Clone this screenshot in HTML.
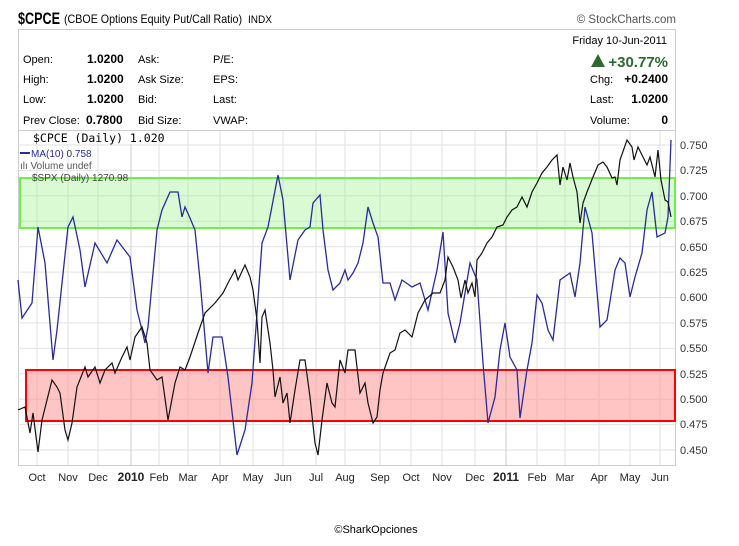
<!DOCTYPE html>
<html><head><meta charset="utf-8"><style>
body{margin:0;background:#fff;width:739px;height:541px;overflow:hidden;font-family:"Liberation Sans",sans-serif;}
</style></head><body>
<svg width="739" height="541" xmlns="http://www.w3.org/2000/svg" font-family="Liberation Sans, sans-serif">
<text x="18" y="24" font-size="17" font-weight="bold" textLength="42" lengthAdjust="spacingAndGlyphs">$CPCE</text>
<text x="64" y="23" font-size="12" textLength="178" lengthAdjust="spacingAndGlyphs">(CBOE Options Equity Put/Call Ratio)</text>
<text x="248" y="23" font-size="11" textLength="24" lengthAdjust="spacingAndGlyphs">INDX</text>
<text x="676" y="23" font-size="11.5" fill="#555" text-anchor="end">© StockCharts.com</text>
<rect x="18.5" y="29.5" width="657" height="436" fill="none" stroke="#ccc"/>
<line x1="18" y1="130.5" x2="676" y2="130.5" stroke="#ccc"/>
<g font-size="11">
<text x="23" y="63">Open:</text><text x="87" y="63" font-weight="bold" font-size="12">1.0200</text><text x="138" y="63">Ask:</text><text x="213" y="63">P/E:</text>
<text x="23" y="83">High:</text><text x="87" y="83" font-weight="bold" font-size="12">1.0200</text><text x="138" y="83">Ask Size:</text><text x="213" y="83">EPS:</text>
<text x="23" y="103">Low:</text><text x="87" y="103" font-weight="bold" font-size="12">1.0200</text><text x="138" y="103">Bid:</text><text x="213" y="103">Last:</text>
<text x="23" y="124">Prev Close:</text><text x="86" y="124" font-weight="bold" font-size="12">0.7800</text><text x="138" y="124">Bid Size:</text><text x="213" y="124">VWAP:</text>
<text x="667" y="44" text-anchor="end">Friday  10-Jun-2011</text>
<polygon points="591,67 598,54 605,67" fill="#2d6a2d"/>
<text x="668" y="67" text-anchor="end" font-size="15" fill="#2d6a2d" font-weight="bold">+30.77%</text>
<text x="590" y="83">Chg:</text><text x="668" y="83" text-anchor="end" font-weight="bold" font-size="12">+0.2400</text>
<text x="590" y="103">Last:</text><text x="668" y="103" text-anchor="end" font-weight="bold" font-size="12">1.0200</text>
<text x="590" y="124">Volume:</text><text x="668" y="124" text-anchor="end" font-weight="bold" font-size="12">0</text>
</g>
<g stroke="#e2e2e2" stroke-width="1">
<line x1="18" x2="675" y1="145" y2="145"/><line x1="18" x2="675" y1="170.4" y2="170.4"/><line x1="18" x2="675" y1="195.8" y2="195.8"/><line x1="18" x2="675" y1="221.3" y2="221.3"/><line x1="18" x2="675" y1="246.7" y2="246.7"/><line x1="18" x2="675" y1="272.1" y2="272.1"/><line x1="18" x2="675" y1="297.5" y2="297.5"/><line x1="18" x2="675" y1="322.9" y2="322.9"/><line x1="18" x2="675" y1="348.3" y2="348.3"/><line x1="18" x2="675" y1="373.8" y2="373.8"/><line x1="18" x2="675" y1="399.2" y2="399.2"/><line x1="18" x2="675" y1="424.6" y2="424.6"/><line x1="18" x2="675" y1="450" y2="450"/>
<line x1="37" x2="37" y1="131" y2="465"/><line x1="68" x2="68" y1="131" y2="465"/><line x1="98" x2="98" y1="131" y2="465"/><line x1="131" x2="131" y1="131" y2="465" stroke="#ccc"/><line x1="159" x2="159" y1="131" y2="465"/><line x1="188" x2="188" y1="131" y2="465"/><line x1="220" x2="220" y1="131" y2="465"/><line x1="253" x2="253" y1="131" y2="465"/><line x1="283" x2="283" y1="131" y2="465"/><line x1="316" x2="316" y1="131" y2="465"/><line x1="345" x2="345" y1="131" y2="465"/><line x1="380" x2="380" y1="131" y2="465"/><line x1="411" x2="411" y1="131" y2="465"/><line x1="442" x2="442" y1="131" y2="465"/><line x1="475" x2="475" y1="131" y2="465"/><line x1="506" x2="506" y1="131" y2="465" stroke="#ccc"/><line x1="537" x2="537" y1="131" y2="465"/><line x1="565" x2="565" y1="131" y2="465"/><line x1="599" x2="599" y1="131" y2="465"/><line x1="630" x2="630" y1="131" y2="465"/><line x1="660" x2="660" y1="131" y2="465"/>
</g>
<rect x="20" y="178" width="655" height="50" fill="#8bf07a" fill-opacity="0.33" stroke="#6ef047" stroke-width="2"/>
<rect x="26" y="370" width="649" height="51" fill="#ff8a8a" fill-opacity="0.5" stroke="#f00" stroke-width="2"/>
<polyline fill="none" stroke="#2a2a9a" stroke-width="1.3" points="18,280 22,318 32,303 38,227 45,263 53,360 57,330 68,227 73,217 80,250 85,287 95,243 107,263 117,240 130,257 137,310 142,330 145,343 148,327 157,230 162,210 170,192 178,192 182,217 185,207 190,218 195,230 200,280 208,373 213,337 222,337 228,377 237,455 245,430 252,383 262,243 268,227 278,175 283,200 290,280 298,240 305,230 310,227 313,203 320,195 323,230 328,270 333,290 340,283 345,270 348,280 353,273 358,263 363,243 368,207 373,223 378,237 383,283 390,283 395,300 402,280 412,287 420,283 428,310 437,270 443,232 448,313 455,343 460,323 470,263 477,280 483,363 488,423 495,397 500,350 505,323 510,357 517,370 520,418 527,370 532,343 537,295 542,303 548,330 553,340 560,280 570,273 575,297 580,263 585,207 592,233 600,327 607,320 615,270 620,258 625,263 630,297 635,277 642,253 647,210 652,192 657,237 665,233 668,217 671,140"/>
<polyline fill="none" stroke="#111" stroke-width="1.2" points="18,410 25,407 30,433 33,413 38,452 42,420 47,400 52,380 57,387 60,393 65,430 68,440 72,423 77,387 85,367 88,377 95,367 100,383 105,370 112,363 115,373 122,357 127,347 130,360 135,337 142,327 147,343 150,370 157,380 162,377 168,420 175,383 180,367 185,370 190,357 198,333 205,313 215,303 223,293 228,283 235,270 238,280 245,265 250,277 253,290 257,320 260,363 262,317 265,310 270,343 273,370 275,397 280,377 283,403 287,393 290,423 295,390 300,360 305,360 310,397 315,443 318,455 322,420 327,383 332,403 335,407 340,360 345,373 348,350 355,350 360,393 365,383 368,403 373,423 377,417 380,390 383,373 390,353 395,350 400,333 405,330 412,337 418,313 425,300 433,293 440,293 445,280 448,257 453,267 458,280 461,298 465,280 468,293 472,283 475,297 477,260 482,253 487,243 492,237 497,227 503,225 507,217 512,210 517,207 522,197 527,207 532,192 537,183 542,173 547,167 552,160 557,155 560,185 563,167 567,180 570,163 573,177 577,192 580,223 583,203 587,192 593,177 598,165 603,162 607,167 612,178 615,177 617,185 620,160 627,140 632,147 634,160 638,147 643,157 647,165 650,157 655,177 658,150 661,180 665,200 668,202 671,217"/>
<rect x="20" y="131" width="130" height="13" fill="#fff"/>
<text x="33" y="142" font-size="11.5" font-family="DejaVu Sans Mono, monospace">$CPCE (Daily) 1.020</text>
<g font-size="10">
<line x1="20" y1="153" x2="30" y2="153" stroke="#2a2a9a" stroke-width="2"/><text x="31" y="157" fill="#2a2a9a">MA(10) 0.758</text>
<text x="20" y="169" fill="#555">ılı Volume undef</text>
<text x="32" y="181" fill="#444">$SPX (Daily) 1270.98</text>
</g>
<g font-size="11" fill="#333">
<text x="680" y="149">0.750</text><text x="680" y="174">0.725</text><text x="680" y="200">0.700</text><text x="680" y="225">0.675</text><text x="680" y="251">0.650</text><text x="680" y="276">0.625</text><text x="680" y="301">0.600</text><text x="680" y="327">0.575</text><text x="680" y="352">0.550</text><text x="680" y="378">0.525</text><text x="680" y="403">0.500</text><text x="680" y="428">0.475</text><text x="680" y="454">0.450</text>
</g>
<g font-size="11" fill="#222" text-anchor="middle">
<text x="37" y="481">Oct</text><text x="68" y="481">Nov</text><text x="98" y="481">Dec</text><text x="131" y="481" font-weight="bold" font-size="12">2010</text><text x="159" y="481">Feb</text><text x="188" y="481">Mar</text><text x="220" y="481">Apr</text><text x="253" y="481">May</text><text x="283" y="481">Jun</text><text x="316" y="481">Jul</text><text x="345" y="481">Aug</text><text x="380" y="481">Sep</text><text x="411" y="481">Oct</text><text x="442" y="481">Nov</text><text x="475" y="481">Dec</text><text x="506" y="481" font-weight="bold" font-size="12">2011</text><text x="537" y="481">Feb</text><text x="565" y="481">Mar</text><text x="599" y="481">Apr</text><text x="630" y="481">May</text><text x="660" y="481">Jun</text>
</g>
<text x="376" y="533" font-size="11" text-anchor="middle">©SharkOpciones</text>
</svg>
</body></html>
